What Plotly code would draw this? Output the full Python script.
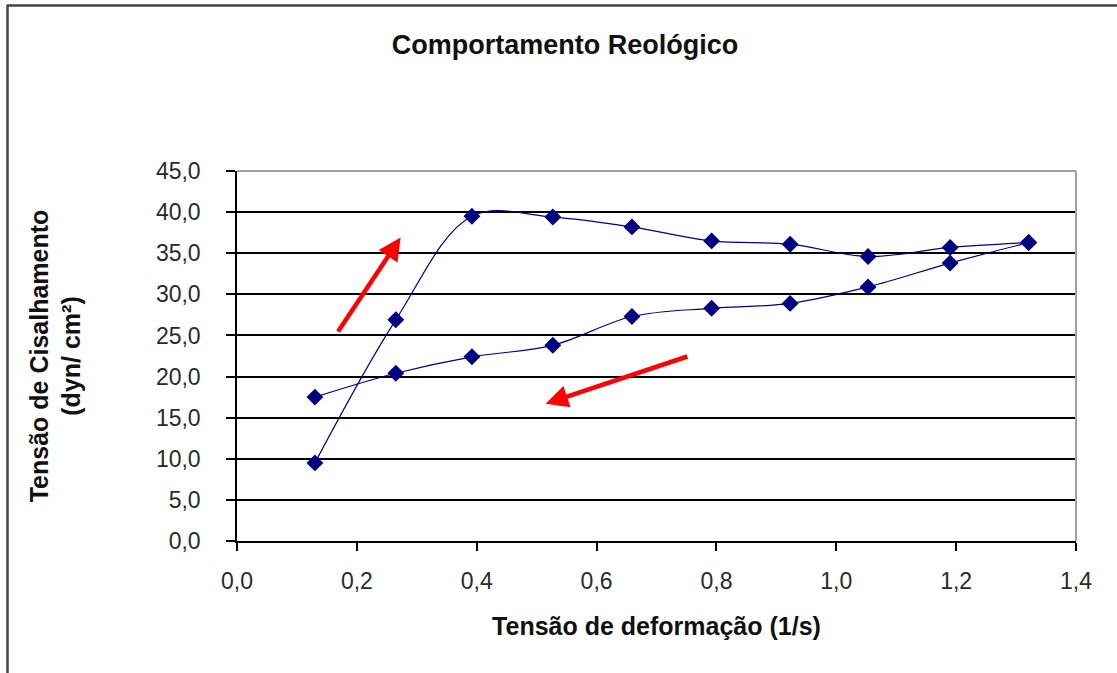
import plotly.graph_objects as go

# Data
shear_rate_up = [0.130, 0.265, 0.392, 0.527, 0.659, 0.792, 0.923, 1.053, 1.190, 1.321]
shear_stress_up = [9.5, 26.9, 39.5, 39.4, 38.2, 36.5, 36.1, 34.6, 35.7, 36.3]
shear_rate_down = [1.321, 1.190, 1.053, 0.923, 0.792, 0.659, 0.527, 0.392, 0.265, 0.130]
shear_stress_down = [36.3, 33.8, 30.9, 28.9, 28.3, 27.3, 23.8, 22.4, 20.4, 17.5]

x_tick_vals = [0.0, 0.2, 0.4, 0.6, 0.8, 1.0, 1.2, 1.4]
x_tick_text = ["0,0", "0,2", "0,4", "0,6", "0,8", "1,0", "1,2", "1,4"]
y_tick_vals = [0, 5, 10, 15, 20, 25, 30, 35, 40, 45]
y_tick_text = ["0,0", "5,0", "10,0", "15,0", "20,0", "25,0", "30,0", "35,0", "40,0", "45,0"]

# Red direction arrows (tail -> head) in data units
arrow_up = dict(tail=(0.167, 25.3), head=(0.273, 36.9))
arrow_down = dict(tail=(0.754, 22.5), head=(0.515, 16.7))

W, H = 1117, 673
L, R, T, B = 237, 1076, 171, 541

navy = "#000080"
FONT = "Liberation Sans, Arial, sans-serif"
fig = go.Figure()
for xs, ys in [(shear_rate_up, shear_stress_up), (shear_rate_down, shear_stress_down)]:
    fig.add_trace(go.Scatter(
        x=xs, y=ys, mode="lines+markers",
        line=dict(color=navy, width=1.2, shape="spline", smoothing=1.0),
        marker=dict(symbol="diamond", size=13, color=navy),
        showlegend=False, hoverinfo="x+y"))

axis_font = dict(family=FONT, size=23, color="#2a2a2a")
title_font = dict(family=FONT, size=25, color="#111")

fig.update_layout(
    width=W, height=H,
    margin=dict(l=L, r=W - R, t=T, b=H - B, pad=0),
    paper_bgcolor="white", plot_bgcolor="white",
    title=dict(text="<b>Comportamento Reológico</b>", x=565 / W, xanchor="center",
               y=1 - 45 / H, yanchor="middle",
               font=dict(family=FONT, size=27, color="#111")),
    xaxis=dict(range=[0, 1.4], tickvals=x_tick_vals, ticktext=x_tick_text,
               ticks="outside", ticklen=8, tickcolor="black", tickwidth=1.5,
               ticklabelstandoff=11,
               showline=True, linecolor="black", linewidth=1.5,
               showgrid=False, zeroline=False, tickfont=axis_font,
               title=dict(text="<b>Tensão de deformação (1/s)</b>", font=title_font, standoff=24)),
    yaxis=dict(range=[0, 45], tickvals=y_tick_vals, ticktext=y_tick_text,
               ticks="outside", ticklen=9, tickcolor="black", tickwidth=1.5,
               ticklabelstandoff=21,
               showline=True, linecolor="black", linewidth=1.5,
               showgrid=True, gridcolor="black", gridwidth=1.5, zeroline=False,
               tickfont=axis_font,
               title=dict(text="<b>Tensão de Cisalhamento<br>(dyn/ cm²)</b>", font=title_font, standoff=68)),
)

# Plot-area gray border (top and right)
fig.add_shape(type="line", xref="paper", yref="paper", x0=0, x1=1, y0=1, y1=1,
              line=dict(color="#a0a0a0", width=2))
fig.add_shape(type="line", xref="paper", yref="paper", x0=1, x1=1, y0=0, y1=1,
              line=dict(color="#a0a0a0", width=2))

# Outer chart frame (top and left visible)
def px_to_paper_x(px):
    return (px - L) / (R - L)

def px_to_paper_y(py):
    return (B - py) / (B - T)

fig.add_shape(type="line", xref="paper", yref="paper",
              x0=px_to_paper_x(7), x1=px_to_paper_x(W + 5), y0=px_to_paper_y(5.5), y1=px_to_paper_y(5.5),
              line=dict(color="#444", width=2.5))
fig.add_shape(type="line", xref="paper", yref="paper",
              x0=px_to_paper_x(7.5), x1=px_to_paper_x(7.5), y0=px_to_paper_y(5), y1=px_to_paper_y(H + 5),
              line=dict(color="#444", width=2.5))

for a in (arrow_up, arrow_down):
    fig.add_annotation(x=a["head"][0], y=a["head"][1], ax=a["tail"][0], ay=a["tail"][1],
                       xref="x", yref="y", axref="x", ayref="y", text="",
                       showarrow=True, arrowhead=2, arrowsize=1.0, arrowwidth=4.5,
                       arrowcolor="#ff0000")

fig.write_html("out.html", config={"displayModeBar": False},
               post_script="document.body.style.margin='0';document.body.style.overflow='hidden';")
